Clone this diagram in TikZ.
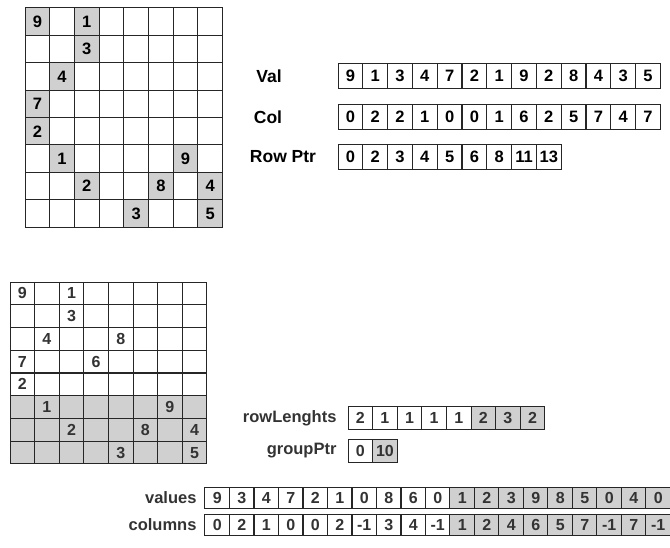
\documentclass[tikz,border=0pt]{standalone}
\usepackage{fontspec}
\setmainfont{Liberation Sans}
\usepackage{tikz}
\usetikzlibrary{positioning}
\definecolor{cellgray}{RGB}{208,208,208}
\definecolor{textgray}{RGB}{51,51,51}

\begin{document}
\begin{tikzpicture}[
    x=1pt, y=-1pt,
    font=\bfseries\fontsize{16.5}{16.5}\selectfont,
    cell/.style={
        rectangle,
        draw=black!85,
        line width=1pt,
        inner sep=0pt,
        minimum width=24.7pt,
        minimum height=27.4pt
    },
    hit/.style={
        cell,
        fill=cellgray
    },
    slot/.style={
        cell,
        minimum width=24.7pt,
        minimum height=25pt
    },
    slim/.style={
        cell,
        text=textgray,
        font=\bfseries\fontsize{16}{16}\selectfont,
        minimum width=24.6pt,
        minimum height=22.7pt
    },
    tag/.style={
        font=\bfseries\fontsize{17.5}{17.5}\selectfont
    },
    rowname/.style={
        anchor=east,
        text=textgray,
        font=\bfseries\fontsize{16.5}{16.5}\selectfont
    }
]
\useasboundingbox (0,0) rectangle (670,548);

% Sparse matrix (top)
\foreach \r in {0,...,7}
  \foreach \c in {0,...,7}
    \node[cell] (a\r\c) at ({25+(\c+0.5)*24.7},{8+(\r+0.5)*27.4}) {};
\foreach \r/\c/\v in {0/0/9,0/2/1,1/2/3,2/1/4,3/0/7,4/0/2,5/1/1,5/6/9,
                      6/2/2,6/5/8,6/7/4,7/4/3,7/7/5}
  \node[hit] (h\r\c) at (a\r\c) {\v};

% CSR arrays
\node[tag] (lval) at (269,76) {Val};
\node[tag] (lcol) at (268,117) {Col};
\node[tag] (lptr) at (283,157) {Row Ptr};
\foreach \v [count=\i] in {9,1,3,4,7,2,1,9,2,8,4,3,5}
  \node[slot] (val\i) at ({338+(\i-0.5)*24.8},76) {\v};
\foreach \v [count=\i] in {0,2,2,1,0,0,1,6,2,5,7,4,7}
  \node[slot] (col\i) at ({338+(\i-0.5)*24.8},117) {\v};
\foreach \v [count=\i] in {0,2,3,4,5,6,8,11,13}
  \node[slot] (ptr\i) at ({338+(\i-0.5)*24.8},157) {\v};

% Sliced matrix (bottom)
\foreach \r in {0,...,4}
  \foreach \c in {0,...,7}
    \node[slim] (b\r\c) at ({10+(\c+0.5)*24.6},{282+(\r+0.5)*22.75}) {};
\foreach \r in {5,6,7}
  \foreach \c in {0,...,7}
    \node[slim, fill=cellgray] (b\r\c) at ({10+(\c+0.5)*24.6},{282+(\r+0.5)*22.75}) {};
\foreach \r/\c/\v in {0/0/9,0/2/1,1/2/3,2/1/4,2/4/8,3/0/7,3/3/6,4/0/2,
                      5/1/1,5/6/9,6/2/2,6/5/8,6/7/4,7/4/3,7/7/5}
  \node[text=textgray, font=\bfseries\fontsize{16}{16}\selectfont] (n\r\c) at (b\r\c) {\v};

% Slice arrays
\node[rowname] (lrow) at (340,418) {rowLenghts};
\node[rowname] (lgrp) at (340,451) {groupPtr};
\foreach \v [count=\i] in {2,1,1,1,1}
  \node[slim] (rl\i) at ({348+(\i-0.5)*24.6},418) {\v};
\foreach \v [count=\i from 6] in {2,3,2}
  \node[slim, fill=cellgray] (rl\i) at ({348+(\i-0.5)*24.6},418) {\v};
\node[slim] (gp1) at (360.3,451) {0};
\node[slim, fill=cellgray] (gp2) at (384.9,451) {10};

% ELL-style arrays
\node[rowname] (lvalues) at (200,498) {values};
\node[rowname] (lcolumns) at (200,525) {columns};
\foreach \v [count=\i] in {9,3,4,7,2,1,0,8,6,0}
  \node[slim, minimum height=21pt] (vs\i) at ({205+(\i-0.5)*24.5},498) {\v};
\foreach \v [count=\i from 11] in {1,2,3,9,8,5,0,4,0}
  \node[slim, minimum height=21pt, fill=cellgray] (vs\i) at ({205+(\i-0.5)*24.5},498) {\v};
\foreach \v [count=\i] in {0,2,1,0,0,2,-1,3,4,-1}
  \node[slim, minimum height=21pt] (cs\i) at ({205+(\i-0.5)*24.5},525) {\v};
\foreach \v [count=\i from 11] in {1,2,4,6,5,7,-1,7,-1}
  \node[slim, minimum height=21pt, fill=cellgray] (cs\i) at ({205+(\i-0.5)*24.5},525) {\v};

\end{tikzpicture}
\end{document}
